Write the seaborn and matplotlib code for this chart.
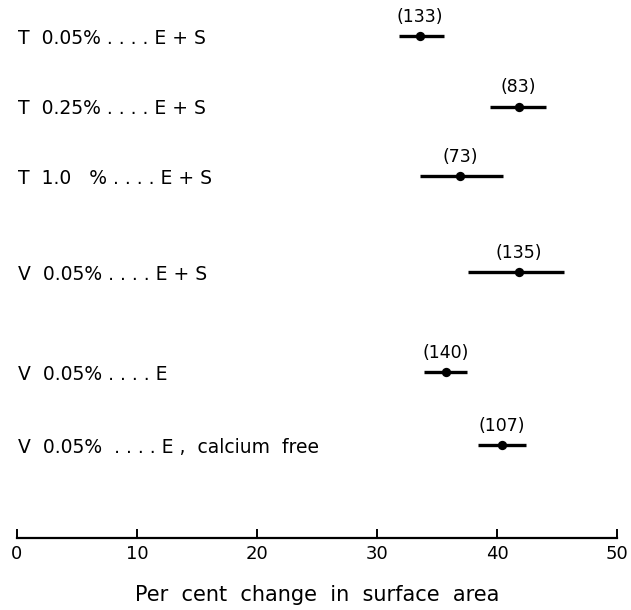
import matplotlib
matplotlib.use("Agg")
import matplotlib.pyplot as plt
import matplotlib.transforms as mtransforms
import seaborn as sns
import pandas as pd

# ---- data ----
labels = ["T  0.05% . . . . E + S", "T  0.25% . . . . E + S", "T  1.0   % . . . . E + S",
          "V  0.05% . . . . E + S", "V  0.05% . . . . E", "V  0.05%  . . . . E ,  calcium  free"]
means = [33.6, 41.8, 36.9, 41.8, 35.75, 40.4]
lows = [31.8, 39.4, 33.6, 37.6, 33.9, 38.4]
highs = [35.6, 44.1, 40.5, 45.6, 37.5, 42.4]
counts = ["(133)", "(83)", "(73)", "(135)", "(140)", "(107)"]
xticks = [0, 10, 20, 30, 40, 50]
xlabel = "Per  cent  change  in  surface  area"

# layout: row positions (top to bottom)
row_pos = [0, 1, 1.99, 3.35, 4.77, 5.80]

df = pd.DataFrame({"label": labels, "mean": means, "low": lows,
                   "high": highs, "n": counts, "row": row_pos})

sns.set_theme(style="white")
plt.rcParams["font.family"] = ["DejaVu Sans"]
plt.rcParams["text.color"] = "black"
plt.rcParams["axes.labelcolor"] = "black"
plt.rcParams["xtick.color"] = "black"

fig = plt.figure(figsize=(6.31, 6.10), dpi=100)
axis_px = 538
ax = fig.add_axes([17 / 631, (610 - axis_px) / 610, 600 / 631, axis_px / 610])

ax.hlines(df["row"], df["low"], df["high"], color="black", linewidth=2.4)
sns.scatterplot(data=df, x="mean", y="row", ax=ax, color="black", s=45,
                edgecolor="black", linewidth=0, zorder=3)

for _, r in df.iterrows():
    ax.text(r["mean"], r["row"] - 0.27, r["n"], ha="center", va="center",
            fontsize=12.5, color="black")

trans = mtransforms.blended_transform_factory(ax.transAxes, ax.transData)
for _, r in df.iterrows():
    ax.text(0.002, r["row"] + 0.03, r["label"], transform=trans, ha="left",
            va="center", fontsize=13.5, color="black")

unit = 70.5
ax.set_ylim(row_pos[0] + (axis_px - 36) / unit, row_pos[0] - 36 / unit)
ax.set_xlim(0, 50)
ax.set_xticks(xticks)
ax.set_xticklabels([str(t) for t in xticks], fontsize=13, color="black")
ax.set_yticks([])
ax.set_ylabel("")
ax.set_xlabel(xlabel, fontsize=15, va="center", color="black")
ax.xaxis.set_label_coords(0.5, -(595 - axis_px) / axis_px)
for s in ["top", "left", "right"]:
    ax.spines[s].set_visible(False)
ax.spines["bottom"].set_color("black")
ax.spines["bottom"].set_linewidth(1.6)
ax.tick_params(axis="x", direction="in", length=6.8, width=1.4, color="black",
               labelcolor="black", pad=5, bottom=True)
ax.set_facecolor("white")
fig.patch.set_facecolor("white")

fig.savefig("out.png", dpi=100, facecolor="white")
